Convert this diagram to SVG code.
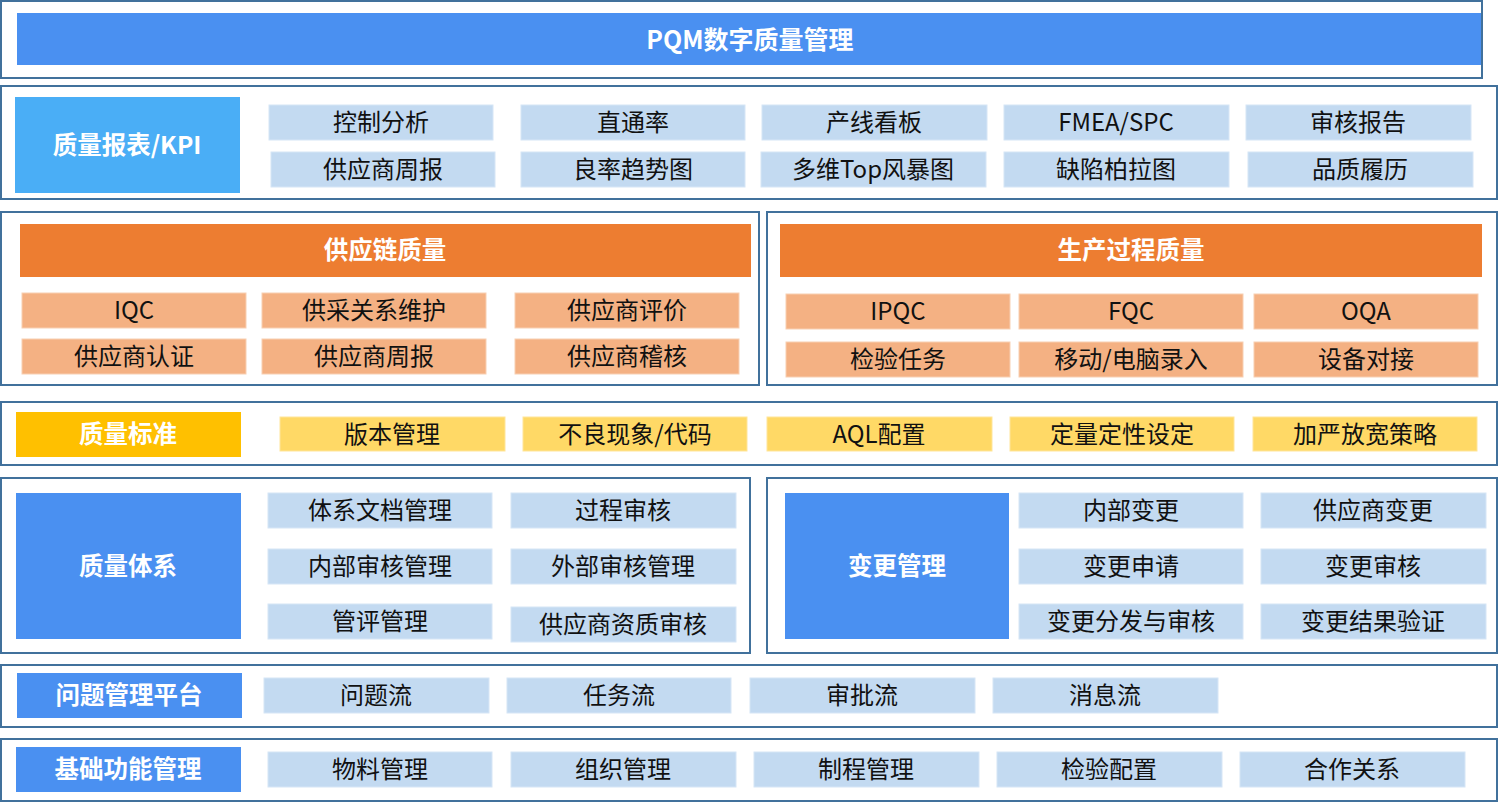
<svg xmlns="http://www.w3.org/2000/svg" width="1500" height="803" viewBox="0 0 1500 803">
<style>
.frame{fill:#fff;stroke:#41719c;stroke-width:2}
.blue{fill:#4a90f1}
.sky{fill:#4aaef6}
.item{fill:#c3daf1;stroke:#d6e6f6;stroke-width:1}
.org{fill:#ed7d31}
.lorg{fill:#f4b183;stroke:#f8cfb2;stroke-width:1}
.gold{fill:#ffc000}
.lyel{fill:#ffd966;stroke:#ffe59a;stroke-width:1}
text{font-family:"Microsoft YaHei","Noto Sans CJK SC","Noto Sans",sans-serif;text-anchor:middle;dominant-baseline:central;transform:translateY(-2px)}
.t{font-size:24px;fill:#111}
.h{font-size:24.5px;font-weight:bold;fill:#fff}
</style>
<rect width="1500" height="803" fill="#fff"/>

<g id="top">
<rect class="frame" x="1" y="1" width="1481" height="77"/>
<rect class="blue" x="17" y="13" width="1464" height="52"/>
<text class="h" x="750" y="40" style="font-size:25px">PQM数字质量管理</text>
</g>

<g id="report">
<rect class="frame" x="1" y="86" width="1496" height="113"/>
<rect class="sky" x="15" y="97" width="225" height="96"/>
<text class="h" x="127" y="145">质量报表/KPI</text>
<rect class="item" x="269" y="105" width="224" height="35"/><text class="t" x="381" y="122">控制分析</text>
<rect class="item" x="521" y="105" width="224" height="35"/><text class="t" x="633" y="122">直通率</text>
<rect class="item" x="762" y="105" width="225" height="35"/><text class="t" x="874" y="122">产线看板</text>
<rect class="item" x="1004" y="105" width="225" height="35"/><text class="t" x="1116" y="122">FMEA/SPC</text>
<rect class="item" x="1246" y="105" width="225" height="35"/><text class="t" x="1358" y="122">审核报告</text>
<rect class="item" x="271" y="152" width="224" height="35"/><text class="t" x="383" y="169">供应商周报</text>
<rect class="item" x="521" y="152" width="224" height="35"/><text class="t" x="633" y="169">良率趋势图</text>
<rect class="item" x="761" y="152" width="225" height="35"/><text class="t" x="873" y="169">多维Top风暴图</text>
<rect class="item" x="1004" y="152" width="225" height="35"/><text class="t" x="1116" y="169">缺陷柏拉图</text>
<rect class="item" x="1248" y="152" width="225" height="35"/><text class="t" x="1360" y="169">品质履历</text>
</g>

<g id="supply">
<rect class="frame" x="1" y="212" width="758" height="173"/>
<rect class="org" x="20" y="224" width="731" height="53"/>
<text class="h" x="385" y="250">供应链质量</text>
<rect class="lorg" x="22" y="293" width="224" height="35"/><text class="t" x="134" y="310">IQC</text>
<rect class="lorg" x="262" y="293" width="224" height="35"/><text class="t" x="374" y="310">供采关系维护</text>
<rect class="lorg" x="515" y="293" width="224" height="35"/><text class="t" x="627" y="310">供应商评价</text>
<rect class="lorg" x="22" y="339" width="224" height="35"/><text class="t" x="134" y="356">供应商认证</text>
<rect class="lorg" x="262" y="339" width="224" height="35"/><text class="t" x="374" y="356">供应商周报</text>
<rect class="lorg" x="515" y="339" width="224" height="35"/><text class="t" x="627" y="356">供应商稽核</text>
</g>

<g id="production">
<rect class="frame" x="767" y="212" width="730" height="173"/>
<rect class="org" x="780" y="224" width="702" height="53"/>
<text class="h" x="1131" y="250">生产过程质量</text>
<rect class="lorg" x="786" y="294" width="224" height="35"/><text class="t" x="898" y="311">IPQC</text>
<rect class="lorg" x="1019" y="294" width="224" height="35"/><text class="t" x="1131" y="311">FQC</text>
<rect class="lorg" x="1254" y="294" width="224" height="35"/><text class="t" x="1366" y="311">OQA</text>
<rect class="lorg" x="786" y="342" width="224" height="35"/><text class="t" x="898" y="359">检验任务</text>
<rect class="lorg" x="1019" y="342" width="224" height="35"/><text class="t" x="1131" y="359">移动/电脑录入</text>
<rect class="lorg" x="1254" y="342" width="224" height="35"/><text class="t" x="1366" y="359">设备对接</text>
</g>

<g id="standard">
<rect class="frame" x="1" y="402" width="1496" height="63"/>
<rect class="gold" x="16" y="412" width="225" height="45"/>
<text class="h" x="128" y="434">质量标准</text>
<rect class="lyel" x="280" y="417" width="225" height="34"/><text class="t" x="392" y="434">版本管理</text>
<rect class="lyel" x="523" y="417" width="224" height="34"/><text class="t" x="635" y="434">不良现象/代码</text>
<rect class="lyel" x="767" y="417" width="225" height="34"/><text class="t" x="879" y="434">AQL配置</text>
<rect class="lyel" x="1010" y="417" width="224" height="34"/><text class="t" x="1122" y="434">定量定性设定</text>
<rect class="lyel" x="1253" y="417" width="224" height="34"/><text class="t" x="1365" y="434">加严放宽策略</text>
</g>

<g id="system">
<rect class="frame" x="1" y="478" width="749" height="175"/>
<rect class="blue" x="16" y="493" width="225" height="146"/>
<text class="h" x="128" y="566">质量体系</text>
<rect class="item" x="268" y="493" width="224" height="35"/><text class="t" x="380" y="510">体系文档管理</text>
<rect class="item" x="511" y="493" width="225" height="35"/><text class="t" x="623" y="510">过程审核</text>
<rect class="item" x="268" y="549" width="224" height="35"/><text class="t" x="380" y="566">内部审核管理</text>
<rect class="item" x="511" y="549" width="225" height="35"/><text class="t" x="623" y="566">外部审核管理</text>
<rect class="item" x="268" y="604" width="224" height="35"/><text class="t" x="380" y="621">管评管理</text>
<rect class="item" x="511" y="607" width="225" height="35"/><text class="t" x="623" y="624">供应商资质审核</text>
</g>

<g id="change">
<rect class="frame" x="767" y="478" width="730" height="175"/>
<rect class="blue" x="785" y="493" width="224" height="146"/>
<text class="h" x="897" y="566">变更管理</text>
<rect class="item" x="1019" y="493" width="224" height="35"/><text class="t" x="1131" y="510">内部变更</text>
<rect class="item" x="1261" y="493" width="225" height="35"/><text class="t" x="1373" y="510">供应商变更</text>
<rect class="item" x="1019" y="549" width="224" height="35"/><text class="t" x="1131" y="566">变更申请</text>
<rect class="item" x="1261" y="549" width="225" height="35"/><text class="t" x="1373" y="566">变更审核</text>
<rect class="item" x="1019" y="604" width="224" height="35"/><text class="t" x="1131" y="621">变更分发与审核</text>
<rect class="item" x="1261" y="604" width="225" height="35"/><text class="t" x="1373" y="621">变更结果验证</text>
</g>

<g id="issue">
<rect class="frame" x="1" y="665" width="1496" height="62"/>
<rect class="blue" x="17" y="673" width="225" height="45"/>
<text class="h" x="129" y="695">问题管理平台</text>
<rect class="item" x="264" y="678" width="225" height="35"/><text class="t" x="376" y="695">问题流</text>
<rect class="item" x="507" y="678" width="224" height="35"/><text class="t" x="619" y="695">任务流</text>
<rect class="item" x="750" y="678" width="225" height="35"/><text class="t" x="862" y="695">审批流</text>
<rect class="item" x="993" y="678" width="225" height="35"/><text class="t" x="1105" y="695">消息流</text>
</g>

<g id="base">
<rect class="frame" x="1" y="739" width="1496" height="62"/>
<rect class="blue" x="16" y="747" width="225" height="45"/>
<text class="h" x="128" y="769">基础功能管理</text>
<rect class="item" x="268" y="752" width="224" height="35"/><text class="t" x="380" y="769">物料管理</text>
<rect class="item" x="511" y="752" width="225" height="35"/><text class="t" x="623" y="769">组织管理</text>
<rect class="item" x="754" y="752" width="225" height="35"/><text class="t" x="866" y="769">制程管理</text>
<rect class="item" x="997" y="752" width="225" height="35"/><text class="t" x="1109" y="769">检验配置</text>
<rect class="item" x="1240" y="752" width="225" height="35"/><text class="t" x="1352" y="769">合作关系</text>
</g>
</svg>
